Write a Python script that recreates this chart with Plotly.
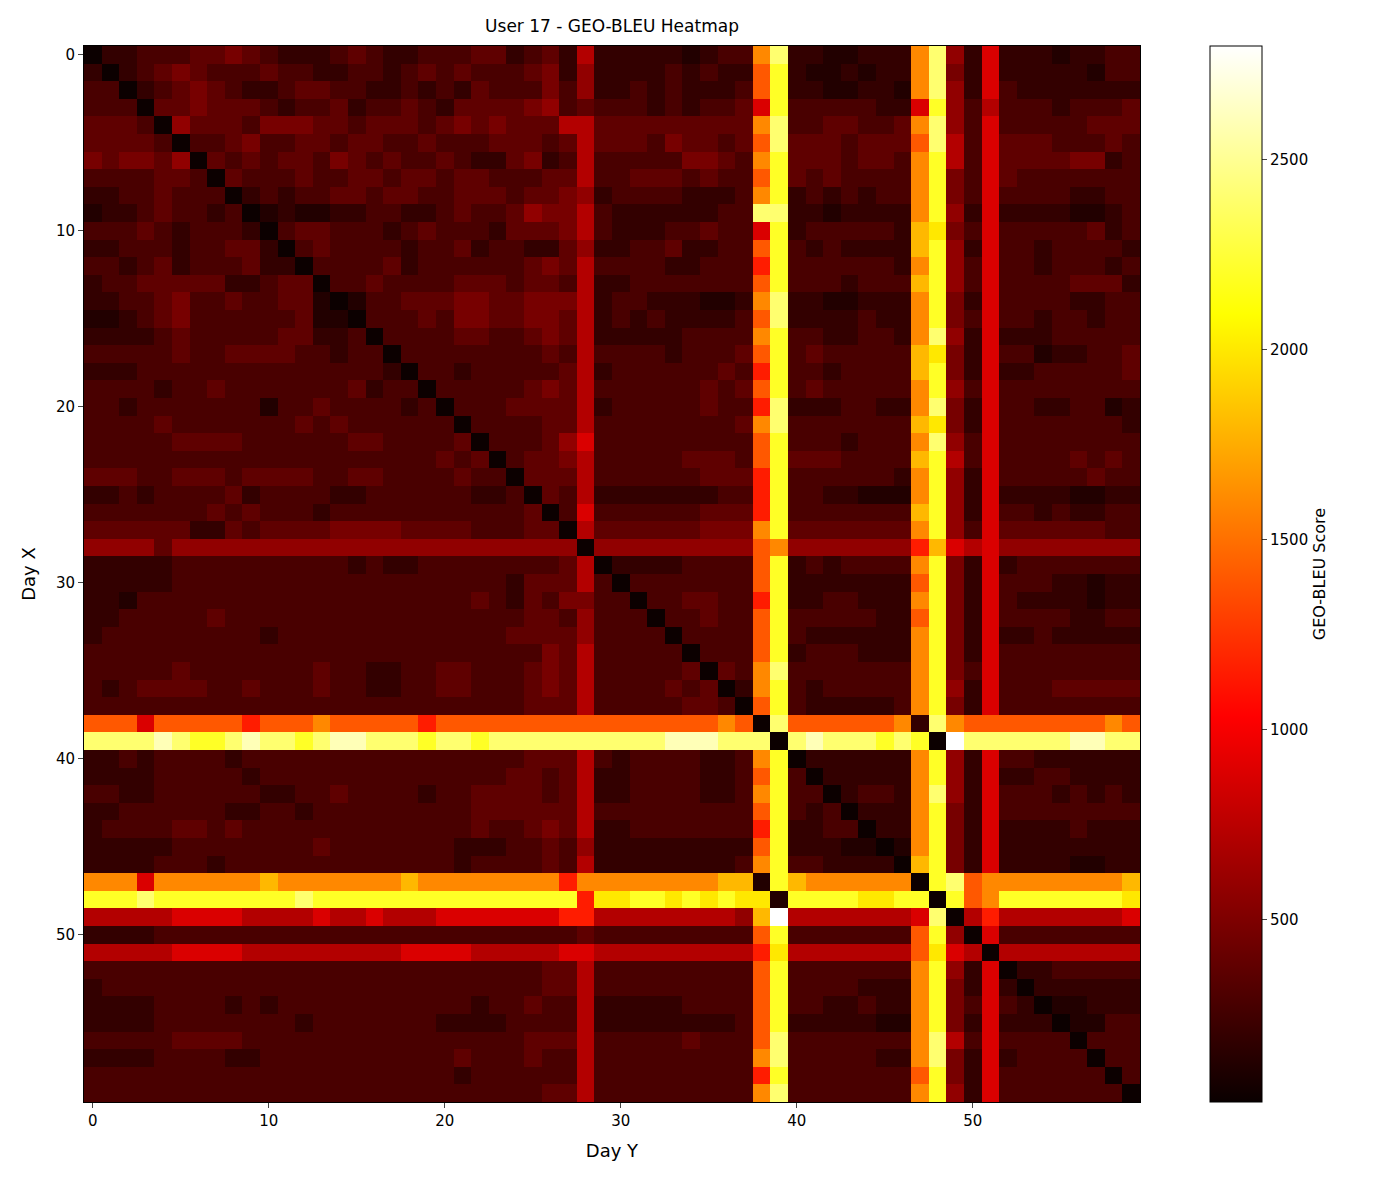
import plotly.graph_objects as go

# Level codes (one char per cell), mapped to GEO-BLEU scores
level_values = {'0': 30, '1': 120, '2': 190, '3': 280, '4': 370, '5': 470, '6': 580, '7': 720,
                '8': 880, '9': 1150, 'a': 1400, 'b': 1600, 'c': 1800, 'd': 2000, 'e': 2200,
                'f': 2400, 'g': 2600, 'h': 2800}

rows = [
"2223 3344 5432 2234 3223 3344 2342|7|2222 2123 3|bf|2211 222|bf628|2221 2233",
"2323 4543 3343 3223 3234 3433 3452|6|2222 3232 2|ae|2112 122|bf528|2222 2133",
"3322 3454 3223 4433 2232 3243 3353|6|2232 3222 3|ae|2211 221|bf628|3222 2222",
"3334 4454 4432 3342 3343 2444 4563|4|3332 3233 4|8e|3333 322|8e637|3332 3334",
"4443 5644 4355 5443 4443 4545 4447|7|4444 4444 4|bf|3344 334|bf638|3333 3444",
"4444 3533 4533 4434 4334 3334 4434|7|4443 5443 4|af|4443 444|af738|4443 3343",
"5455 4624 3434 4354 3433 4322 4523|7|3333 3554 3|be|4443 443|be738|4444 5523",
"3333 4433 4333 4334 4344 3443 3344|7|3344 4343 3|ae|4343 333|be538|4333 3333",
"2233 4333 2232 3344 3443 3444 3445|6|2333 3222 3|be|2323 233|be538|3333 2233",
"1223 4332 3212 1122 3322 3433 4655|7|3222 2223 3|ff|2212 222|be628|2222 1123",
"3334 3233 3223 4433 3234 3332 4445|7|3222 3343 3|8e|2333 332|cd538|3333 3423",
"2233 3233 4423 3433 3323 3423 3224|6|2233 4223 3|ae|3232 222|ce628|3323 3332",
"3323 4233 3422 4333 3423 3333 3454|7|3333 2233 3|9e|3333 332|be638|3323 3323",
"2334 4444 2234 4233 4333 3444 3443|7|2233 3333 3|ae|3332 333|ce638|3333 4442",
"2233 4533 4334 4111 3344 4554 4555|7|2332 2211 2|bf|2211 222|be528|3333 2233",
"1123 4533 3333 4112 3334 3554 4554|7|2323 2222 3|af|2222 322|be538|3323 3233",
"2222 3433 3334 4223 3333 3443 3454|7|2222 2333 3|be|3322 332|bf628|2223 3333",
"3333 3433 4444 3323 3333 3333 3343|7|3333 2333 4|ae|3433 333|cd528|3312 2334",
"2223 3333 3333 3333 3233 3233 3334|7|2333 3334 3|9e|3323 333|ce528|2233 3334",
"3333 2334 3333 3334 2333 3333 3454|7|3333 3343 4|ae|3433 333|be638|3333 3333",
"3323 3333 3313 3433 3323 3333 4444|7|2333 3343 3|9f|2223 322|bf528|3322 3312",
"3333 4333 3333 4343 3333 3333 3344|7|3333 3333 4|bf|3333 333|cd528|3333 3332",
"3333 3444 4333 3334 4333 3433 3346|8|3333 3333 3|ae|3332 333|bf638|3333 3333",
"3333 3333 3333 3333 3333 4343 3445|7|3333 3444 3|ae|4443 333|ce738|3333 4343",
"4443 3444 3444 4334 4333 3433 3444|7|3333 3344 4|9e|3333 332|be628|3333 3433",
"2232 3333 4233 3322 3333 3322 3443|7|2222 2223 3|9e|3322 111|be628|2222 1122",
"3333 3334 3433 3233 3333 3333 3443|8|3333 3344 4|9e|3333 333|ce628|3323 2233",
"4444 4422 4344 4455 5544 4433 3443|7|4444 4455 5|be|4444 444|be638|4444 4433",
"6666 4666 6666 6666 6666 6666 6666|0|6666 6666 6|ab|6666 666|9c878|6666 6666",
"2222 2333 3333 3332 3223 3333 3334|7|2222 2333 3|ae|2323 333|be528|2333 3333",
"2222 2333 3333 3333 3333 3333 2444|7|3333 3333 3|ae|2222 222|ae528|3332 2122",
"2213 3333 3333 3333 3333 3343 2435|5|3333 3443 3|9e|2233 222|be528|3222 2122",
"2233 3334 3333 3333 3333 3333 3443|6|3333 3343 3|ae|3333 322|ae528|3333 2233",
"2333 3333 3323 3333 3333 3333 4444|6|3333 3333 3|ae|3222 222|be528|2232 2222",
"3333 3333 3333 3333 3333 3333 3354|7|3333 3333 3|ae|2333 222|be528|3333 3333",
"3333 3433 3333 3433 2233 4433 3454|7|3333 3444 3|bf|3333 333|be538|3333 3333",
"3234 4443 3433 3433 2233 4433 3454|7|3333 4343 2|be|3233 333|be628|3334 4444",
"3333 3333 3333 3333 3333 3333 3444|7|3333 3443 3|ae|3222 223|be528|3333 3333",
"aaa8 aaaa a9aa abaa aaa9 aaaa aaaa|a|aaaa aaab a|0f|aaaa aab|2fbaa|aaaa aaba",
"ffff gfee fgff efgg fffe ffef ffff|f|ffff gggf f|f0|fgff fef|e0hff|ffff ggff",
"2232 3333 2333 3333 3333 3333 3444|7|3233 3322 3|be|2222 222|be628|3322 2222",
"2222 3333 3233 3333 3333 3333 4434|7|2233 3322 3|ae|3222 222|be628|2233 2222",
"3322 3333 3322 3343 3332 3344 4434|7|2233 3322 3|be|3332 332|bf628|3332 3232",
"2233 3333 2233 2333 3333 3344 4444|7|3333 3333 3|ae|3233 222|be528|3333 3333",
"2333 3443 4333 3333 3333 3343 3454|7|2233 3333 3|9e|2233 222|be528|2222 3222",
"2222 2333 3333 3433 3333 3222 3343|6|2222 2222 2|ae|2221 111|be528|2222 2222",
"2222 3332 3333 3333 3333 3233 3343|7|2222 2222 3|be|3322 222|ce528|2222 1122",
"bbb8 bbbb bbcb bbbb bbcb bbbb bbb9|b|bbbb bbbc c|1e|cbbb bbb|0efab|bbbb bbbc",
"eeef eeee eeee feee eeee eeee eeee|9|ddee dede d|d1|eeee dde|e1eab|eeee eeed",
"7777 7888 8777 7877 8777 8888 8889|9|7777 7777 6|ch|7777 777|8f079|7777 7778",
"2222 3333 3333 3333 3333 3333 3333|4|3333 3333 3|ae|3333 333|ae608|3333 3333",
"7777 7888 8777 7777 7788 8877 7778|8|7777 7777 7|9d|7777 777|ad870|7777 7777",
"3333 3333 3333 3333 3333 3333 3344|7|3333 3333 3|ae|3333 333|be628|2223 3333",
"2333 3333 3333 3333 3333 3333 3344|7|3333 3333 3|ae|3333 222|be528|2222 2222",
"2222 3333 2323 3333 3333 3323 3433|7|2222 2333 3|ae|3322 322|be538|3211 1222",
"2222 3333 3333 2333 3333 2222 3333|7|2222 2222 3|ae|2222 211|be528|2222 1133",
"3333 3444 4333 3333 3333 3333 3444|7|3333 3433 3|af|3333 333|bf738|3333 3333",
"2222 3333 2233 3333 3333 3433 3433|7|3333 3333 3|bf|3333 322|bf528|2333 3333",
"3333 3333 3333 3333 3333 3233 3333|7|3333 3333 3|9e|3333 333|ae528|3333 3333",
"3333 3333 3333 3333 3333 3333 3344|7|3333 3333 3|bf|3333 333|be628|3333 3333",
]

diag_values = [30] * 60  # self-comparison cells are near zero
days = list(range(60))

z = []
for r in rows:
    s = r.replace(" ", "").replace("|", "")
    s = (s + s[-1] * 60)[:60]
    z.append([level_values[c] for c in s])
for i in days:
    z[i][i] = diag_values[i]

hot = [[0, "#0a0000"], [0.365, "#ff0000"], [0.746, "#ffff00"], [1, "#ffffff"]]

fig = go.Figure(go.Heatmap(
    z=z, x=days, y=days, colorscale=hot, zmin=20, zmax=2800,
    colorbar=dict(title=dict(text="GEO-BLEU Score", side="right", font=dict(size=16)),
                  x=1.066, xanchor="left", y=1, yanchor="top", len=1, lenmode="fraction",
                  ypad=0, xpad=0, thickness=52,
                  tickvals=[500, 1000, 1500, 2000, 2500], ticks="outside",
                  outlinecolor="black", outlinewidth=1, tickfont=dict(size=15)),
))
fig.update_layout(
    title=dict(text="User 17 - GEO-BLEU Heatmap", x=0.5, xref="paper", y=0.99, font=dict(size=17)),
    width=1374, height=1181, margin=dict(l=76, r=242, t=38, b=87, autoexpand=False),
    plot_bgcolor="white", paper_bgcolor="white",
    font=dict(family="DejaVu Sans", color="black", size=15),
)
fig.update_xaxes(title_text="Day Y", tickvals=[0, 10, 20, 30, 40, 50], ticks="outside", automargin=False,
                 showline=True, linecolor="black", mirror=True, range=[-0.5, 59.5], showgrid=False)
fig.update_yaxes(title_text="Day X", tickvals=[0, 10, 20, 30, 40, 50], ticks="outside", automargin=False,
                 showline=True, linecolor="black", mirror=True, range=[59.5, -0.5], showgrid=False)
fig.write_html("out.html")
